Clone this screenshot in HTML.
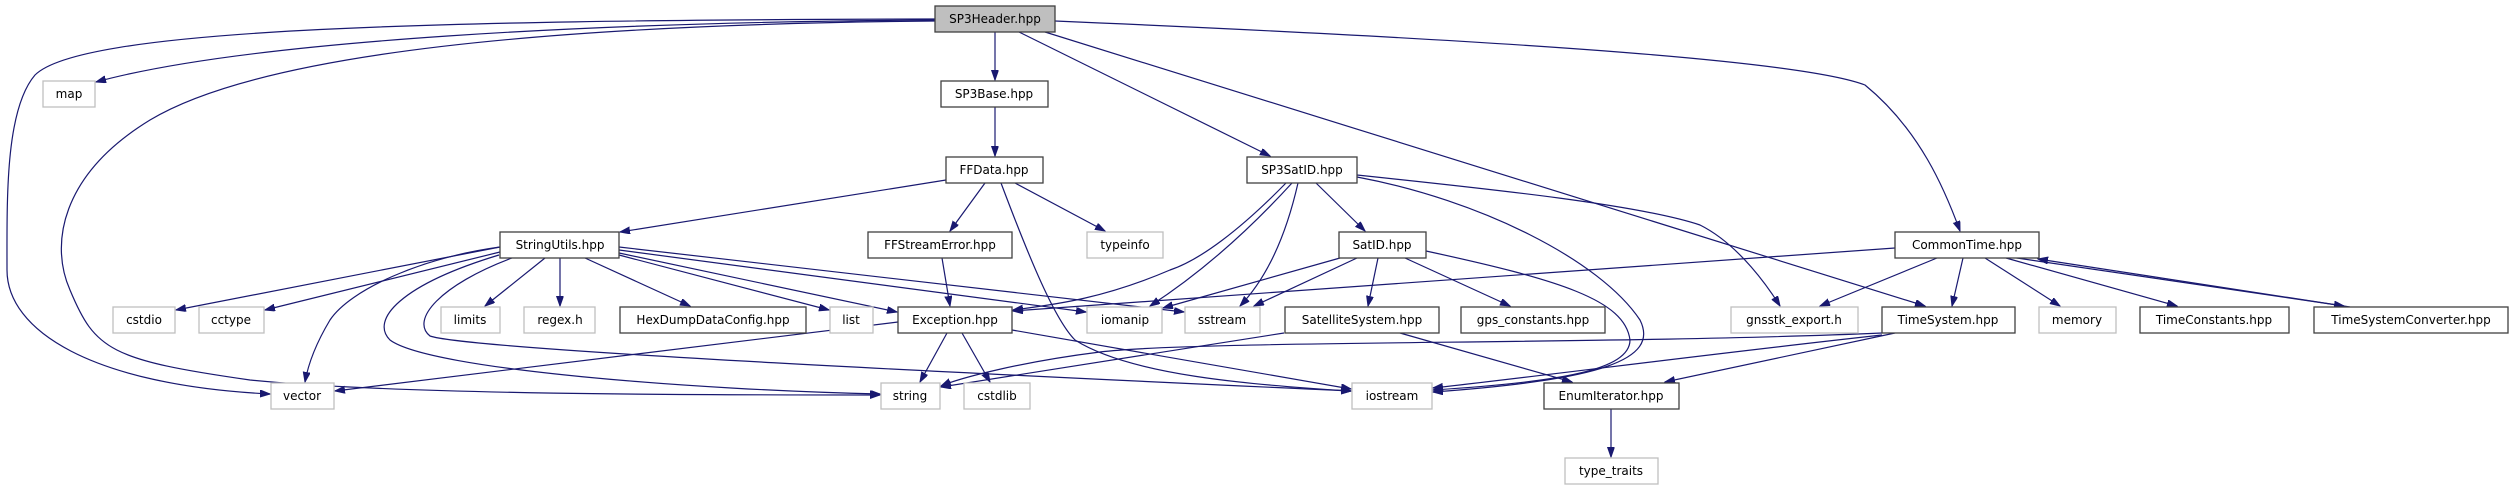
<!DOCTYPE html>
<html><head><meta charset="utf-8"><style>
html,body{margin:0;padding:0;background:#fff;}
svg{display:block;}
text{font-family:"DejaVu Sans","Liberation Sans",sans-serif;font-size:12px;fill:#000;text-anchor:middle;}
.e{fill:none;stroke:#191970;stroke-width:1.2;marker-end:url(#a);}
.d{fill:#fff;stroke:#404040;stroke-width:1.3;}
.g{fill:#fff;stroke:#bfbfbf;stroke-width:1.3;}
</style></head><body>
<svg width="2514" height="485" viewBox="0 0 2514 485" xmlns="http://www.w3.org/2000/svg">
<defs><marker id="a" markerUnits="userSpaceOnUse" markerWidth="11" markerHeight="8" refX="10" refY="3.5" orient="auto"><path d="M0,0 L10,3.5 L0,7 z" fill="#191970" stroke="#191970"/></marker></defs>
<!-- edges -->
<path class="e" d="M935,20 C600,22 250,40 96,82"/>
<path class="e" d="M935,19 C400,20 80,30 35,75 C5,110 7,200 7,270 C7,330 90,385 270,394"/>
<path class="e" d="M935,21 C500,25 250,60 150,120 C60,175 50,245 70,290 C95,350 110,360 250,380 C400,395 700,395 880,395"/>
<path class="e" d="M995,32 L995,80"/>
<path class="e" d="M1019,32 L1270,156"/>
<path class="e" d="M1045,32 L1925,306"/>
<path class="e" d="M1055,21 C1500,40 1800,60 1865,85 C1920,130 1945,190 1960,231"/>
<path class="e" d="M995,107 L995,156"/>
<path class="e" d="M946,180 L620,232"/>
<path class="e" d="M985,183 L950,231"/>
<path class="e" d="M1015,183 L1105,231"/>
<path class="e" d="M1001,183 C1030,260 1055,320 1075,340 C1130,375 1250,385 1351,391"/>
<path class="e" d="M942,258 L950,306"/>
<path class="e" d="M1286,183 C1240,230 1200,260 1170,270 C1100,300 1050,305 1013,310"/>
<path class="e" d="M1292,183 C1240,240 1190,280 1150,306"/>
<path class="e" d="M1298,183 C1285,240 1265,280 1240,306"/>
<path class="e" d="M1316,183 L1365,231"/>
<path class="e" d="M1357,175 C1500,190 1640,205 1700,225 C1740,245 1770,290 1780,306"/>
<path class="e" d="M1357,177 C1480,200 1600,260 1640,320 C1660,360 1600,380 1433,392"/>
<path class="e" d="M1340,258 L1163,308"/>
<path class="e" d="M1357,258 L1254,306"/>
<path class="e" d="M1378,258 L1368,306"/>
<path class="e" d="M1405,258 L1510,306"/>
<path class="e" d="M1426,251 C1560,280 1625,300 1630,340 C1630,370 1560,382 1433,390"/>
<path class="e" d="M1284,333 L941,387"/>
<path class="e" d="M1400,333 L1572,382"/>
<path class="e" d="M1882,333 C1600,345 1200,340 1100,352 C1020,362 960,378 941,386"/>
<path class="e" d="M1882,335 C1700,355 1550,375 1433,388"/>
<path class="e" d="M1895,333 L1665,382"/>
<path class="e" d="M1895,248 L1013,311"/>
<path class="e" d="M1937,258 L1820,306"/>
<path class="e" d="M1963,258 L1952,306"/>
<path class="e" d="M1985,258 L2060,306"/>
<path class="e" d="M2006,258 L2177,306"/>
<path class="e" d="M2010,257 L2344,306"/>
<path class="e" d="M2350,307 L2038,259"/>
<path class="e" d="M500,247 L176,310"/>
<path class="e" d="M500,252 L265,310"/>
<path class="e" d="M545,258 L485,306"/>
<path class="e" d="M560,258 L560,306"/>
<path class="e" d="M585,258 L690,306"/>
<path class="e" d="M619,255 L829,310"/>
<path class="e" d="M619,253 L897,312"/>
<path class="e" d="M619,250 L1086,312"/>
<path class="e" d="M619,247 L1184,312"/>
<path class="e" d="M500,247 C420,258 350,290 330,320 C315,345 308,365 305,382"/>
<path class="e" d="M512,258 C440,285 410,320 430,336 C470,350 1000,375 1351,391"/>
<path class="e" d="M499,255 C400,285 370,320 390,340 C430,370 700,390 880,394"/>
<path class="e" d="M898,322 L335,391"/>
<path class="e" d="M947,333 L920,382"/>
<path class="e" d="M962,333 L990,382"/>
<path class="e" d="M1012,330 L1351,389"/>
<path class="e" d="M1611,409 L1611,457"/>
<!-- nodes -->
<rect x="935" y="6" width="120" height="26" fill="#bfbfbf" stroke="#404040" stroke-width="1.3"/><text x="995" y="23">SP3Header.hpp</text>
<rect class="g" x="43" y="81" width="52" height="26"/><text x="69" y="98">map</text>
<rect class="d" x="941" y="81" width="107" height="26"/><text x="994" y="98">SP3Base.hpp</text>
<rect class="d" x="946" y="157" width="97" height="26"/><text x="994" y="174">FFData.hpp</text>
<rect class="d" x="1247" y="157" width="110" height="26"/><text x="1302" y="174">SP3SatID.hpp</text>
<rect class="d" x="500" y="232" width="119" height="26"/><text x="560" y="249">StringUtils.hpp</text>
<rect class="d" x="868" y="232" width="144" height="26"/><text x="940" y="249">FFStreamError.hpp</text>
<rect class="g" x="1087" y="232" width="76" height="26"/><text x="1125" y="249">typeinfo</text>
<rect class="d" x="1339" y="232" width="87" height="26"/><text x="1382" y="249">SatID.hpp</text>
<rect class="d" x="1895" y="232" width="144" height="26"/><text x="1967" y="249">CommonTime.hpp</text>
<rect class="g" x="113" y="307" width="62" height="26"/><text x="144" y="324">cstdio</text>
<rect class="g" x="199" y="307" width="65" height="26"/><text x="231" y="324">cctype</text>
<rect class="g" x="441" y="307" width="59" height="26"/><text x="470" y="324">limits</text>
<rect class="g" x="524" y="307" width="71" height="26"/><text x="560" y="324">regex.h</text>
<rect class="d" x="620" y="307" width="186" height="26"/><text x="713" y="324">HexDumpDataConfig.hpp</text>
<rect class="g" x="830" y="307" width="43" height="26"/><text x="851" y="324">list</text>
<rect class="d" x="898" y="307" width="114" height="26"/><text x="955" y="324">Exception.hpp</text>
<rect class="g" x="1087" y="307" width="75" height="26"/><text x="1125" y="324">iomanip</text>
<rect class="g" x="1185" y="307" width="75" height="26"/><text x="1222" y="324">sstream</text>
<rect class="d" x="1285" y="307" width="154" height="26"/><text x="1362" y="324">SatelliteSystem.hpp</text>
<rect class="d" x="1461" y="307" width="144" height="26"/><text x="1533" y="324">gps_constants.hpp</text>
<rect class="g" x="1731" y="307" width="127" height="26"/><text x="1794" y="324">gnsstk_export.h</text>
<rect class="d" x="1882" y="307" width="133" height="26"/><text x="1948" y="324">TimeSystem.hpp</text>
<rect class="g" x="2039" y="307" width="77" height="26"/><text x="2077" y="324">memory</text>
<rect class="d" x="2140" y="307" width="149" height="26"/><text x="2214" y="324">TimeConstants.hpp</text>
<rect class="d" x="2314" y="307" width="194" height="26"/><text x="2411" y="324">TimeSystemConverter.hpp</text>
<rect class="g" x="271" y="383" width="63" height="26"/><text x="302" y="400">vector</text>
<rect class="g" x="881" y="383" width="59" height="26"/><text x="910" y="400">string</text>
<rect class="g" x="964" y="383" width="66" height="26"/><text x="997" y="400">cstdlib</text>
<rect class="g" x="1352" y="383" width="80" height="26"/><text x="1392" y="400">iostream</text>
<rect class="d" x="1544" y="383" width="135" height="26"/><text x="1611" y="400">EnumIterator.hpp</text>
<rect class="g" x="1565" y="458" width="93" height="26"/><text x="1611" y="475">type_traits</text>
</svg>
</body></html>
